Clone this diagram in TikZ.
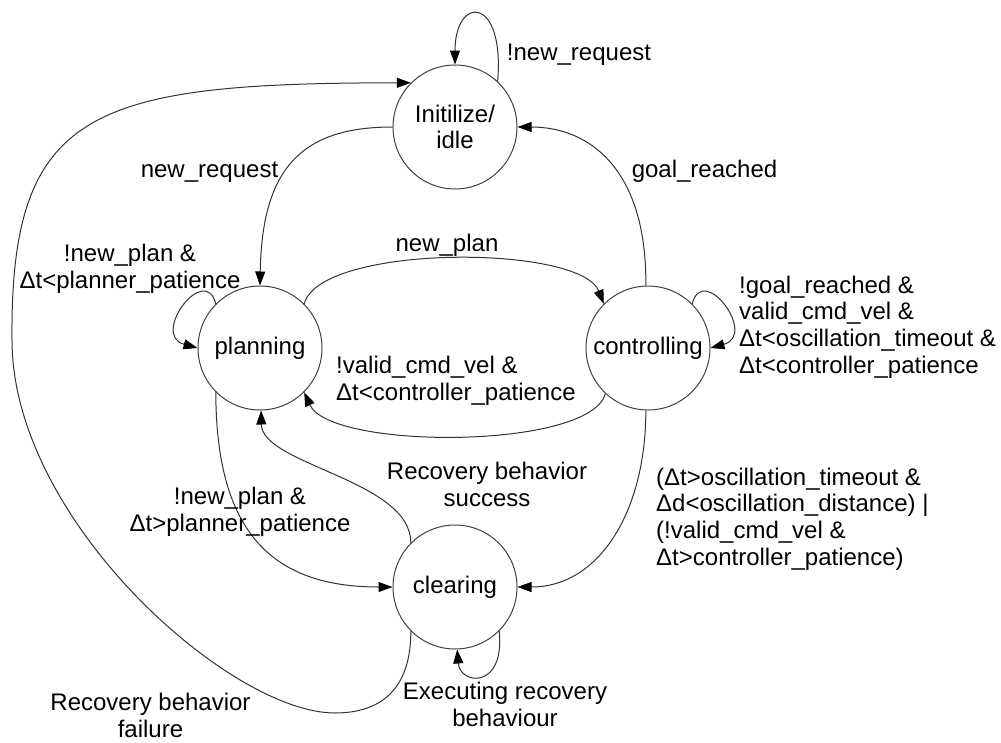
\documentclass[tikz,border=0pt]{standalone}
\usepackage{fontspec}
\setmainfont{Liberation Sans}
\usetikzlibrary{arrows.meta}
\begin{document}
\begin{tikzpicture}[x=1pt,y=-1pt,
  font=\fontsize{24}{26.6}\selectfont,
  state/.style={circle,draw=black!75,line width=1pt,minimum size=124pt,inner sep=0pt,align=center},
  edge/.style={draw=black!80,line width=1pt,-{Triangle[length=14pt,width=10pt,color=black]}},
  lbl/.style={inner sep=0pt,anchor=base,align=center},
  lbll/.style={inner sep=0pt,anchor=base west,align=left}]
\useasboundingbox (0,0) rectangle (1001,742);
% states
\node[state] (idle) at (455,127) {Initilize/\\idle};
\node[state] (plan) at (260,348) {planning};
\node[state] (ctrl) at (648,348) {controlling};
\node[state] (clr) at (455,587) {clearing};
% edges
\draw[edge] (idle.47) .. controls (505,-5) and (455,-5) .. (idle.90);
\draw[edge] (idle.180) .. controls (300,127) and (262,170) .. (plan.90);
\draw[edge] (ctrl.92) .. controls (647,170) and (590,127) .. (idle.0);
\draw[edge] (plan.45) .. controls (320,244) and (580,244) .. (ctrl.135);
\draw[edge] (ctrl.-133) .. controls (590,450) and (330,450) .. (plan.-45);
\draw[edge] (plan.135) .. controls (205,262) and (150,335) .. (plan.180);
\draw[edge] (ctrl.45) .. controls (703,262) and (758,335) .. (ctrl.0);
\draw[edge] (plan.-135) .. controls (216,530) and (270,587) .. (clr.180);
\draw[edge] (clr.135) .. controls (411,480) and (262,465) .. (plan.-89);
\draw[edge] (ctrl.-92) .. controls (646,510) and (600,587) .. (clr.0);
\draw[edge] (clr.-45) .. controls (505,690) and (460,685) .. (clr.-88);
\coordinate (f1) at (335,713);
\coordinate (f2) at (12,340);
\draw[edge] (clr.-135) .. controls (411,690) and (380,713) .. (f1)
  .. controls (230,713) and (12,520) .. (f2)
  .. controls (10,110) and (90,83) .. (idle.135);
% labels (base anchor = baseline of the last line)
\node[lbl] (l1) at (579,60) {!new\_request};
\node[lbl] (l2) at (209.5,177) {new\_request};
\node[lbl] (l3) at (704.5,177) {goal\_reached};
\node[lbl] (l4) at (447,251) {new\_plan};
\node[lbl] (l5) at (130,288.5) {!new\_plan \&\\Δt<planner\_patience};
\node[lbll] (l6) at (336,400) {!valid\_cmd\_vel \&\\Δt<controller\_patience};
\node[lbll] (l7) at (739,373) {!goal\_reached \&\\valid\_cmd\_vel \&\\Δt<oscillation\_timeout \&\\Δt<controller\_patience};
\node[lbl] (l8) at (240,531.5) {!new\_plan \&\\Δt>planner\_patience};
\node[lbl] (l9) at (487,506.5) {Recovery behavior\\success};
\node[lbll] (l10) at (656,565) {(Δt>oscillation\_timeout \&\\Δd<oscillation\_distance) |\\(!valid\_cmd\_vel \&\\Δt>controller\_patience)};
\node[lbl] (l11) at (505,726.5) {Executing recovery\\behaviour};
\node[lbl] (l12) at (150.5,737) {Recovery behavior\\failure};
\end{tikzpicture}
\end{document}
